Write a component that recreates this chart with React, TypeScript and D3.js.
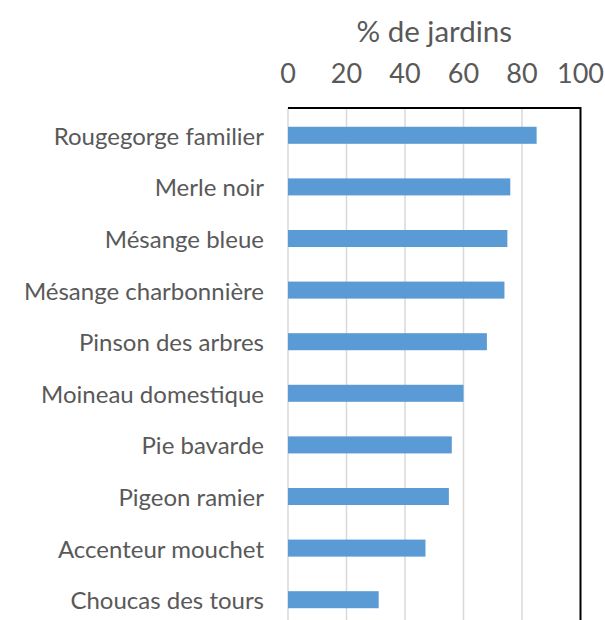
import React, { useEffect, useRef } from "react";
import * as d3 from "d3";

const categories = [
  "Rougegorge familier",
  "Merle noir",
  "Mésange bleue",
  "Mésange charbonnière",
  "Pinson des arbres",
  "Moineau domestique",
  "Pie bavarde",
  "Pigeon ramier",
  "Accenteur mouchet",
  "Choucas des tours",
];
const values = [85, 76, 75, 74, 68, 60, 56, 55, 47, 31];
const ticks = [0, 20, 40, 60, 80, 100];
const axisTitle = "% de jardins";

const FONT = "Lato, sans-serif";
const TEXT = "#595959";

const App = () => {
  const ref = useRef(null);

  useEffect(() => {
    const width = 605;
    const height = 620;
    const left = 288;
    const right = 580.5;
    const top = 108;

    const svg = d3.select(ref.current);
    svg.selectAll("*").remove();
    svg.attr("width", width).attr("height", height);

    const x = d3.scaleLinear().domain([0, 100]).range([left, right]);
    const y = d3
      .scaleBand()
      .domain(categories)
      .range([top + 1.5, top + 1.5 + 516])
      .paddingInner(0.67)
      .paddingOuter(0.335);

    // gridlines
    svg
      .append("g")
      .selectAll("line")
      .data(ticks.slice(0, -1))
      .enter()
      .append("line")
      .attr("x1", (d) => x(d))
      .attr("x2", (d) => x(d))
      .attr("y1", top)
      .attr("y2", height)
      .attr("stroke", "#d9d9d9")
      .attr("stroke-width", 1.5);

    // bars
    svg
      .append("g")
      .selectAll("rect")
      .data(values)
      .enter()
      .append("rect")
      .attr("x", x(0))
      .attr("y", (d, i) => y(categories[i]))
      .attr("width", (d) => x(d) - x(0))
      .attr("height", y.bandwidth())
      .attr("fill", "#5b9bd5");

    // frame: top + right
    svg
      .append("path")
      .attr("d", `M${x(0)},${top}H${x(100)}V${height}`)
      .attr("fill", "none")
      .attr("stroke", "#000")
      .attr("stroke-width", 2);

    // tick labels on top
    svg
      .append("g")
      .selectAll("text")
      .data(ticks)
      .enter()
      .append("text")
      .attr("x", (d) => x(d))
      .attr("y", 72)
      .attr("text-anchor", "middle")
      .attr("dominant-baseline", "central")
      .attr("fill", TEXT)
      .style("font-family", FONT)
      .style("font-size", "27px")
      .text((d) => d);

    // category labels
    svg
      .append("g")
      .selectAll("text")
      .data(categories)
      .enter()
      .append("text")
      .attr("x", 264)
      .attr("y", (d) => y(d) + y.bandwidth() / 2)
      .attr("text-anchor", "end")
      .attr("dominant-baseline", "central")
      .attr("fill", TEXT)
      .style("font-family", FONT)
      .style("font-size", "24px")
      .text((d) => d);

    // axis title
    svg
      .append("text")
      .attr("x", (x(0) + x(100)) / 2)
      .attr("y", 30)
      .attr("text-anchor", "middle")
      .attr("dominant-baseline", "central")
      .attr("fill", TEXT)
      .style("font-family", FONT)
      .style("font-size", "29.5px")
      .text(axisTitle);
  }, []);

  return (
    <svg
      ref={ref}
      style={{ position: "absolute", left: 0, top: 0, background: "#fff" }}
    />
  );
};

export default App;
